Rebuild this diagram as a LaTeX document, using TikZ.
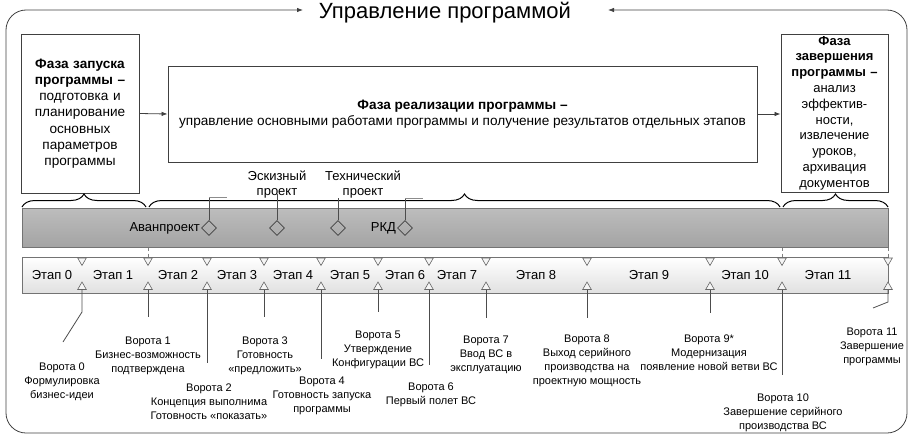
\documentclass[tikz,border=0pt]{standalone}
\usepackage{fontspec}
\setmainfont{Liberation Sans}
\usetikzlibrary{shapes.geometric,decorations.pathreplacing,arrows.meta}
\begin{document}
\begin{tikzpicture}[x=1pt,y=-1pt,
  line/.style={draw=black!75, line width=0.8pt},
  arr/.style={-{Latex[length=6pt,width=4.5pt]}},
  box/.style={draw=black!75, line width=0.9pt, fill=white, inner sep=2pt, align=center, font=\fontsize{13.6}{16.2}\selectfont},
  bracestyle/.style={draw=black, line width=1pt, decorate, decoration={brace, amplitude=13pt}},
  tri/.style={regular polygon, regular polygon sides=3, draw=black!60, fill=black!4, minimum size=10pt, inner sep=0pt, line width=0.6pt},
  dtri/.style={tri, shape border rotate=180},
  diam/.style={diamond, draw=black!75, minimum size=15pt, inner sep=0pt, line width=0.8pt},
  lab/.style={font=\fontsize{13}{15}\selectfont, inner sep=1pt},
  stage/.style={font=\fontsize{13}{15}\selectfont, inner sep=0pt},
  gate/.style={font=\fontsize{11}{14}\selectfont, align=center, inner sep=0pt},
  gline/.style={draw=black!70, line width=0.8pt}
]
\useasboundingbox (0,0) rectangle (915,444);

% title and outer frame
\node[font=\fontsize{22}{26}\selectfont, inner sep=0pt] (title) at (445,13) {Управление программой};
\coordinate (tl) at (303,10);
\coordinate (bl) at (6,433);
\coordinate (tr) at (907,10);
\coordinate (ta) at (608,10);
\draw[line, rounded corners=20pt, {Latex[length=6pt,width=4.5pt]}-{Latex[length=6pt,width=4.5pt]}] (tl) -| (bl) -| (tr) -- (ta);

% phase boxes
\node[box, minimum width=118pt, minimum height=159pt, text width=114pt, inner sep=0pt] (launch) at (80,113.5)
 {\textbf{Фаза запуска}\\\textbf{программы –}\\подготовка и\\планирование\\основных\\параметров\\программы};
\node[box, minimum width=589pt, minimum height=96pt] (impl) at (462.5,114)
 {\textbf{Фаза реализации программы –}\\управление основными работами программы и получение результатов отдельных этапов};
\node[box, minimum width=107pt, minimum height=158pt, text width=104pt, inner sep=0pt, font=\fontsize{13}{15.8}\selectfont] (close) at (834.5,113)
 {\textbf{Фаза}\\\textbf{завершения}\\\textbf{программы –}\\анализ\\эффектив-\\ности,\\извлечение\\уроков,\\архивация\\документов};
\draw[line, arr] (launch.east) -- (impl.west);
\draw[line, arr] (impl.east) -- (impl.east -| close.west);

% braces
\draw[bracestyle] (22,207) -- (146,207);
\draw[bracestyle] (149,207) -- (780,207);
\draw[bracestyle] (783,207) -- (888,207);

% bands
\node[draw=black!55, line width=0.7pt, top color=black!26, middle color=black!18, bottom color=black!36,
  minimum width=866pt, minimum height=39pt, anchor=north west, inner sep=0pt] (band) at (22,208) {};
\node[draw=black!55, line width=0.7pt, top color=white, bottom color=black!12,
  minimum width=866pt, minimum height=36pt, anchor=north west, inner sep=0pt] (stages) at (22,257) {};

% diamonds and labels in the gray band
\node[diam] (d1) at (209,228) {};
\node[diam] (d2) at (277,228) {};
\node[diam] (d3) at (338,228) {};
\node[diam] (d4) at (405,228) {};
\node[lab, anchor=east] (avan) at (d1.west) {Аванпроект};
\node[lab, anchor=east] (rkd) at (d4.west) {РКД};
\node[lab, align=center] (esk) at (277,184.5) {Эскизный\\проект};
\node[lab, align=center] (tech) at (363,184.5) {Технический\\проект};
\coordinate (d1a) at (209,197);
\coordinate (d1b) at (227,197);
\coordinate (d2a) at (277,194);
\coordinate (d3a) at (338,198);
\coordinate (d4a) at (405,198);
\coordinate (d4b) at (423,198);
\draw[gline] (d1.north) -- (d1a);
\draw[draw=black!45, line width=0.8pt] (d1a) -- (d1b);
\draw[gline] (d2.north) -- (d2a);
\draw[gline] (d3.north) -- (d3a);
\draw[gline] (d4.north) -- (d4a);
\draw[draw=black!45, line width=0.8pt] (d4a) -- (d4b);

% gate triangles
\foreach \i/\x in {0/82,1/148,2/207,3/264,4/321,5/378,6/429,7/486,8/587,9/710,10/782,11/888}{
  \node[dtri] (gd\i) at (\x,260.5) {};
  \node[tri] (gu\i) at (\x,287) {};
}
\draw[dashed, draw=black!50, line width=0.5pt] (band.south -| gd1.north) -- (gd1.north);
\draw[dashed, draw=black!50, line width=0.5pt] (band.south -| gd10.north) -- (gd10.north);
\draw[dashed, draw=black!50, line width=0.5pt] (band.south -| gd11.north) -- (gd11.north);

% stage labels
\foreach \i/\x in {0/52,1/113,2/178,3/237,4/293,5/350,6/405,7/457,8/536,9/649,10/745,11/828}{
  \node[stage] (s\i) at (\x,275) {Этап \i};
}

% gate connectors
\coordinate (e0a) at (82,312);
\coordinate (e0b) at (63,342);
\coordinate (e1) at (148,317);
\coordinate (e2) at (207,363);
\coordinate (e3) at (264,317);
\coordinate (e4) at (321,359);
\coordinate (e5) at (378,312);
\coordinate (e6) at (429,365);
\coordinate (e7) at (486,318);
\coordinate (e8) at (587,318);
\coordinate (e9) at (710,313);
\coordinate (e10) at (782,375);
\coordinate (e11a) at (888,302);
\coordinate (e11b) at (873,308);
\draw[gline] (gu0.south) -- (e0a) -- (e0b);
\draw[gline] (gu1.south) -- (e1);
\draw[gline] (gu2.south) -- (e2);
\draw[gline] (gu3.south) -- (e3);
\draw[gline] (gu4.south) -- (e4);
\draw[gline] (gu5.south) -- (e5);
\draw[gline] (gu6.south) -- (e6);
\draw[gline] (gu7.south) -- (e7);
\draw[gline] (gu8.south) -- (e8);
\draw[gline] (gu9.south) -- (e9);
\draw[gline] (gu10.south) -- (e10);
\draw[gline] (gu11.south) -- (e11a) -- (e11b);

% gate labels
\node[gate] (l0) at (62,381.5) {Ворота 0\\Формулировка\\бизнес-идеи};
\node[gate] (l1) at (148,355.5) {Ворота 1\\Бизнес-возможность\\подтверждена};
\node[gate] (l2) at (209,402) {Ворота 2\\Концепция выполнима\\Готовность «показать»};
\node[gate] (l3) at (265,355.5) {Ворота 3\\Готовность\\«предложить»};
\node[gate] (l4) at (322,395.5) {Ворота 4\\Готовность запуска\\программы};
\node[gate] (l5) at (378,349.5) {Ворота 5\\Утверждение\\Конфигурации ВС};
\node[gate] (l6) at (431,394.5) {Ворота 6\\Первый полет ВС};
\node[gate] (l7) at (486,354.5) {Ворота 7\\Ввод ВС в\\эксплуатацию};
\node[gate] (l8) at (587,361) {Ворота 8\\Выход серийного\\производства на\\проектную мощность};
\node[gate] (l9) at (709,352.5) {Ворота 9*\\Модернизация\\появление новой ветви ВС};
\node[gate] (l10) at (783,413) {Ворота 10\\Завершение серийного\\производства ВС};
\node[gate] (l11) at (872,347) {Ворота 11\\Завершение\\программы};
\end{tikzpicture}
\end{document}
